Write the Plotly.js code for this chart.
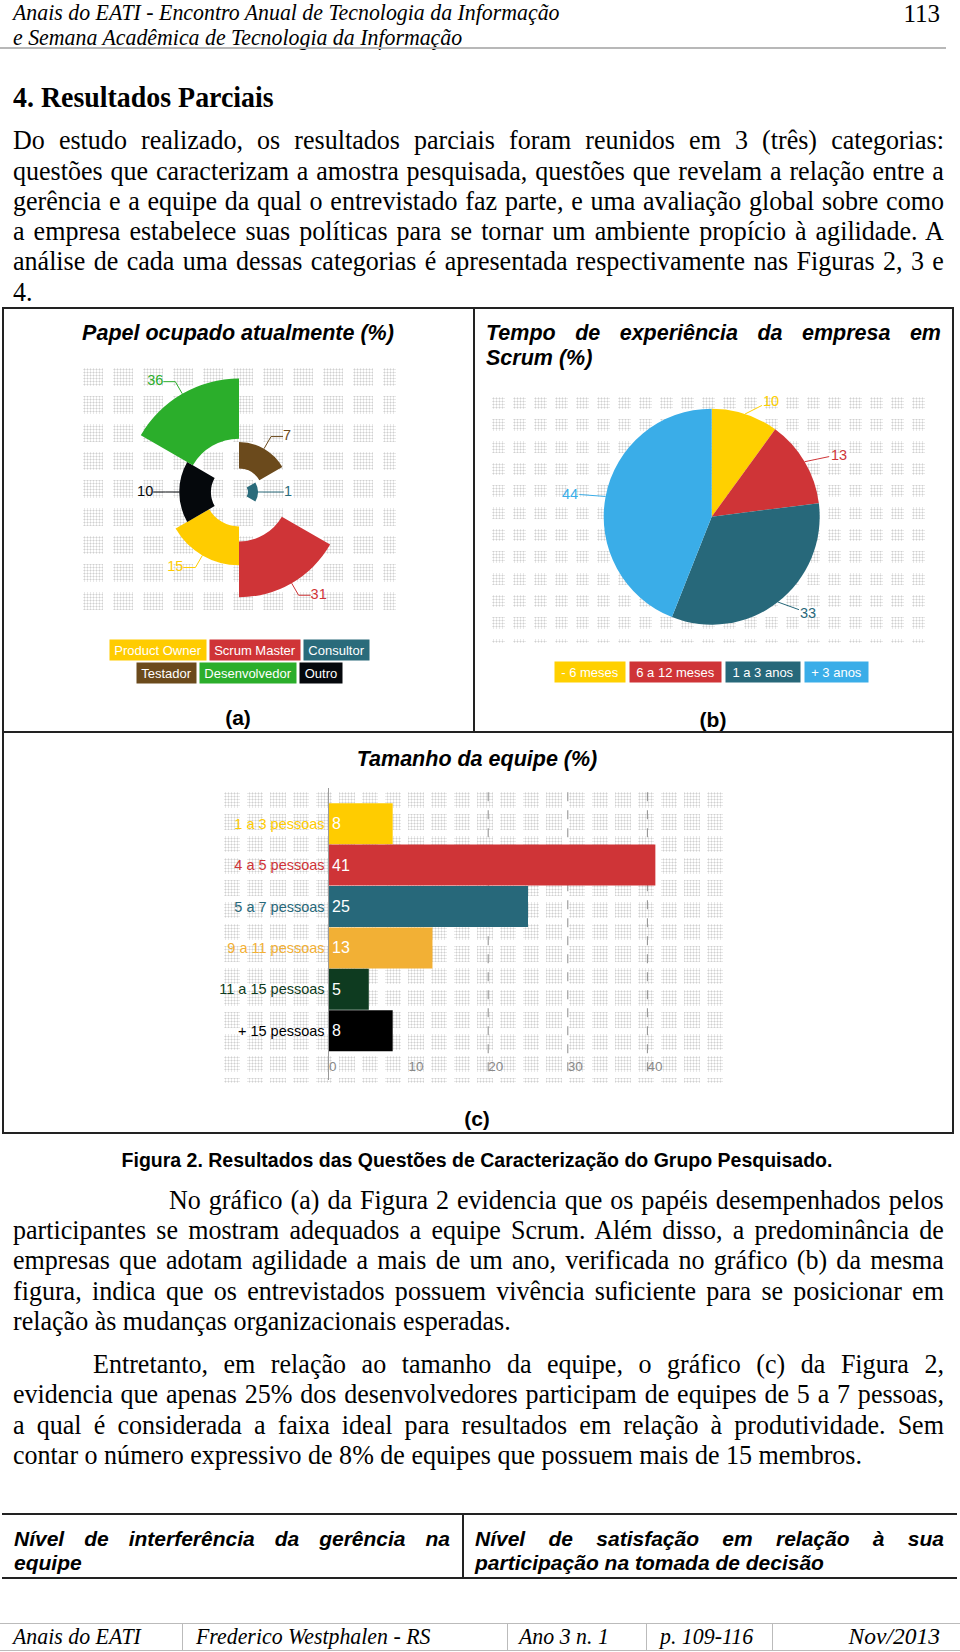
<!DOCTYPE html>
<html>
<head>
<meta charset="utf-8">
<script src="https://cdn.plot.ly/plotly-3.0.1.min.js"></script>
<style>
  html,body{margin:0;padding:0;background:#fff;}
  body{width:960px;height:1652px;position:relative;overflow:hidden;}
  .abs{position:absolute;}
  .serif{font-family:"Liberation Serif","Times New Roman",serif;color:#000;}
  .sans{font-family:"Liberation Sans",Arial,sans-serif;color:#000;}
  .cond{transform:scaleX(0.93);transform-origin:0 0;}
  .ln{position:absolute;left:13px;width:1001px;height:30px;line-height:30px;font-size:28px;white-space:nowrap;text-align:justify;text-align-last:justify;transform:scaleX(0.93);transform-origin:0 0;}
  .ln.last{text-align:left;text-align-last:left;}
  .bi{font-weight:bold;font-style:italic;}
  .hl{position:absolute;background:#222;}
  .dotsA,.dotsB,.dotsC{position:absolute;}
  .dotsA{background-image:linear-gradient(90deg,rgba(255,255,255,0) 0 20px,#fff 20px 30px),linear-gradient(180deg,rgba(255,255,255,0) 0 18px,#fff 18px 28px),radial-gradient(circle,#d0d0d0 0.85px,rgba(255,255,255,0) 1.15px);background-size:30px 28px,30px 28px,3px 3px;}
  .dotsB{background-image:linear-gradient(90deg,rgba(255,255,255,0) 0 13px,#fff 13px 21px),linear-gradient(180deg,rgba(255,255,255,0) 0 12px,#fff 12px 22px),radial-gradient(circle,#d0d0d0 0.85px,rgba(255,255,255,0) 1.15px);background-size:21px 22px,21px 22px,3px 3px;}
  .dotsC{background-image:linear-gradient(90deg,rgba(255,255,255,0) 0 16px,#fff 16px 23px),linear-gradient(180deg,rgba(255,255,255,0) 0 16px,#fff 16px 22px),radial-gradient(circle,#d0d0d0 0.85px,rgba(255,255,255,0) 1.15px);background-size:23px 22px,23px 22px,3px 3px;}
  .chart{position:absolute;}
</style>
</head>
<body>

<!-- header -->
<div class="abs serif cond" style="left:13px;top:-1px;font-size:23.5px;font-style:italic;line-height:26px;white-space:nowrap;">Anais do EATI - Encontro Anual de Tecnologia da Informação</div>
<div class="abs serif cond" style="left:13px;top:24px;font-size:23.5px;font-style:italic;line-height:26px;white-space:nowrap;">e Semana Acadêmica de Tecnologia da Informação</div>
<div class="abs serif" style="left:880px;width:60px;text-align:right;top:0px;font-size:25px;line-height:28px;">113</div>
<div class="abs" style="left:0;top:47px;width:946px;height:2px;background:#b8b8b8;"></div>

<div class="abs serif cond" style="left:13px;top:81px;font-size:30px;font-weight:bold;line-height:32px;white-space:nowrap;">4. Resultados Parciais</div>

<div class="ln serif" style="top:125px;">Do estudo realizado, os resultados parciais foram reunidos em 3 (três) categorias:</div>
<div class="ln serif" style="top:156px;">questões que caracterizam a amostra pesquisada, questões que revelam a relação entre a</div>
<div class="ln serif" style="top:186px;">gerência e a equipe da qual o entrevistado faz parte, e uma avaliação global sobre como</div>
<div class="ln serif" style="top:216px;">a empresa estabelece suas políticas para se tornar um ambiente propício à agilidade. A</div>
<div class="ln serif" style="top:246px;">análise de cada uma dessas categorias é apresentada respectivamente nas Figuras 2, 3 e</div>
<div class="ln serif last" style="top:277px;">4.</div>

<!-- figure box -->
<div class="hl" style="left:2px;top:307px;width:952px;height:1.5px;"></div>
<div class="hl" style="left:2px;top:1132px;width:952px;height:1.5px;"></div>
<div class="hl" style="left:2px;top:307px;width:1.5px;height:826px;"></div>
<div class="hl" style="left:952px;top:307px;width:1.5px;height:826px;"></div>
<div class="hl" style="left:473px;top:307px;width:1.5px;height:425px;"></div>
<div class="hl" style="left:2px;top:731px;width:952px;height:1.5px;"></div>

<div class="abs sans bi" style="left:0;width:476px;text-align:center;top:320px;font-size:21.5px;line-height:26px;">Papel ocupado atualmente (%)</div>
<div class="abs sans bi" style="left:486px;width:455px;top:320px;font-size:21.5px;line-height:26px;white-space:nowrap;text-align:justify;text-align-last:justify;">Tempo de experiência da empresa em</div>
<div class="abs sans bi" style="left:486px;top:345px;font-size:21.5px;line-height:26px;white-space:nowrap;">Scrum (%)</div>

<div class="dotsA" style="left:83px;top:368px;width:313px;height:246px;"></div>
<div class="dotsB" style="left:492px;top:397px;width:441px;height:246px;"></div>
<div class="dotsC" style="left:224px;top:792px;width:503px;height:291px;"></div>

<div id="chartA" class="chart" style="left:0;top:330px;width:474px;height:370px;"></div>
<div id="chartB" class="chart" style="left:474px;top:380px;width:478px;height:330px;"></div>

<div class="abs sans" style="left:0;width:476px;text-align:center;top:705px;font-size:21px;font-weight:bold;line-height:26px;">(a)</div>
<div class="abs sans" style="left:474px;width:478px;text-align:center;top:707px;font-size:21px;font-weight:bold;line-height:26px;">(b)</div>
<div class="abs sans bi" style="left:0;width:954px;text-align:center;top:746px;font-size:21.5px;line-height:26px;">Tamanho da equipe (%)</div>

<div id="chartC" class="chart" style="left:0;top:780px;width:960px;height:350px;"></div>

<div class="abs sans" style="left:0;width:954px;text-align:center;top:1106px;font-size:21px;font-weight:bold;line-height:26px;">(c)</div>

<div class="abs sans" style="left:0;width:954px;text-align:center;top:1148px;font-size:19.5px;font-weight:bold;line-height:24px;white-space:nowrap;">Figura 2. Resultados das Questões de Caracterização do Grupo Pesquisado.</div>

<div class="ln serif" style="top:1185px;left:169px;width:833px;">No gráfico (a) da Figura 2 evidencia que os papéis desempenhados pelos</div>
<div class="ln serif" style="top:1215px;">participantes se mostram adequados a equipe Scrum. Além disso, a predominância de</div>
<div class="ln serif" style="top:1245px;">empresas que adotam agilidade a mais de um ano, verificada no gráfico (b) da mesma</div>
<div class="ln serif" style="top:1276px;">figura, indica que os entrevistados possuem vivência suficiente para se posicionar em</div>
<div class="ln serif last" style="top:1306px;">relação às mudanças organizacionais esperadas.</div>

<div class="ln serif" style="top:1349px;left:93px;width:915px;">Entretanto, em relação ao tamanho da equipe, o gráfico (c) da Figura 2,</div>
<div class="ln serif" style="top:1379px;">evidencia que apenas 25% dos desenvolvedores participam de equipes de 5 a 7 pessoas,</div>
<div class="ln serif" style="top:1410px;">a qual é considerada a faixa ideal para resultados em relação à produtividade. Sem</div>
<div class="ln serif last" style="top:1440px;">contar o número expressivo de 8% de equipes que possuem mais de 15 membros.</div>

<!-- bottom table -->
<div class="hl" style="left:2px;top:1513px;width:955px;height:1.5px;"></div>
<div class="hl" style="left:2px;top:1577px;width:955px;height:1.5px;"></div>
<div class="hl" style="left:462px;top:1513px;width:1.5px;height:65px;"></div>
<div class="abs sans bi" style="left:14px;width:436px;top:1526px;font-size:21px;line-height:26px;white-space:nowrap;text-align:justify;text-align-last:justify;">Nível de interferência da gerência na</div>
<div class="abs sans bi" style="left:14px;top:1550px;font-size:21px;line-height:26px;white-space:nowrap;">equipe</div>
<div class="abs sans bi" style="left:475px;width:469px;top:1526px;font-size:21px;line-height:26px;white-space:nowrap;text-align:justify;text-align-last:justify;">Nível de satisfação em relação à sua</div>
<div class="abs sans bi" style="left:475px;top:1550px;font-size:21px;line-height:26px;white-space:nowrap;">participação na tomada de decisão</div>

<!-- footer -->
<div class="abs" style="left:0;top:1623px;width:960px;height:1px;background:#bbb;"></div>
<div class="abs" style="left:0;top:1650px;width:960px;height:1px;background:#bbb;"></div>
<div class="abs" style="left:182px;top:1623px;width:1px;height:28px;background:#bbb;"></div>
<div class="abs" style="left:507px;top:1623px;width:1px;height:28px;background:#bbb;"></div>
<div class="abs" style="left:646px;top:1623px;width:1px;height:28px;background:#bbb;"></div>
<div class="abs" style="left:772px;top:1623px;width:1px;height:28px;background:#bbb;"></div>
<div class="abs serif cond" style="left:13px;top:1623px;font-size:23.5px;font-style:italic;line-height:27px;white-space:nowrap;">Anais do EATI</div>
<div class="abs serif cond" style="left:196px;top:1623px;font-size:23.5px;font-style:italic;line-height:27px;white-space:nowrap;">Frederico Westphalen - RS</div>
<div class="abs serif cond" style="left:519px;top:1623px;font-size:23.5px;font-style:italic;line-height:27px;white-space:nowrap;">Ano 3 n. 1</div>
<div class="abs serif cond" style="left:660px;top:1623px;font-size:23.5px;font-style:italic;line-height:27px;white-space:nowrap;">p. 109-116</div>
<div class="abs serif" style="left:800px;width:140px;text-align:right;top:1623px;font-size:23.5px;font-style:italic;line-height:27px;white-space:nowrap;">Nov/2013</div>

<script>
// ---------- DATA ----------
// (a) Papel ocupado atualmente (%) - sectors clockwise from 12 o'clock
const roleNames  = ['Testador', 'Consultor', 'Scrum Master', 'Product Owner', 'Outro', 'Desenvolvedor'];
const roleValues = [7, 1, 31, 15, 10, 36];
const roleColors = ['#6B4A1C', '#2A6B7B', '#CF3437', '#FFCC00', '#05080C', '#2BAE2B'];
const roleLegendRows = [['Product Owner', 'Scrum Master', 'Consultor'], ['Testador', 'Desenvolvedor', 'Outro']];

// (b) Tempo de experiência da empresa em Scrum (%)
const expLabels = ['- 6 meses', '6 a 12 meses', '1 a 3 anos', '+ 3 anos'];
const expValues = [10, 13, 33, 44];
const expColors = ['#FFD000', '#CF3437', '#27687A', '#3AADE8'];

// (c) Tamanho da equipe (%)
const teamLabels = ['1 a 3 pessoas', '4 a 5 pessoas', '5 a 7 pessoas', '9 a 11 pessoas', '11 a 15 pessoas', '+ 15 pessoas'];
const teamValues = [8, 41, 25, 13, 5, 8];
const teamColors = ['#FFCC00', '#CF3437', '#27687A', '#F2B035', '#0E3B20', '#000000'];
const teamTicks = [0, 10, 20, 30, 40];
const teamGrid = [20, 30, 40];

// ---------- helpers ----------
const FONT = '"Liberation Sans", Arial, sans-serif';
const cfg = {staticPlot: true, displayModeBar: false};
const ctx = document.createElement('canvas').getContext('2d');
function textW(t, size) { ctx.font = size + 'px "Liberation Sans", Arial, sans-serif'; return ctx.measureText(t).width; }

function legendBoxes(rows, colorOf, W, H, cx, rowY, gap, pad, size) {
  const out = [];
  rows.forEach((row, ri) => {
    const widths = row.map(t => Math.round(textW(t, size) + pad));
    const total = widths.reduce((a, b) => a + b, 0) + gap * (row.length - 1);
    let x = cx - total / 2;
    row.forEach((t, i) => {
      const c = x + widths[i] / 2;
      out.push({xref: 'paper', yref: 'paper', x: c / W, y: 1 - rowY[ri] / H, xanchor: 'center', yanchor: 'middle',
        text: t, showarrow: false, bgcolor: colorOf(t), width: widths[i], height: 20, borderpad: 0,
        font: {family: FONT, size: size, color: '#ffffff'}});
      x += widths[i] + gap;
    });
  });
  return out;
}

// ---------- chart A: rose with hole ----------
(function () {
  const W = 474, H = 370, cx = 239, cy = 162, k = 18.9, rmax = 8, innerFrac = 0.47;
  const R = rmax * k;
  const n = roleValues.length;
  const step = 360 / n;
  const sq = roleValues.map(v => Math.sqrt(v));
  const thetas = roleValues.map((v, i) => (i + 0.5) * step);
  const traces = [{
    type: 'barpolar', r: sq.map(s => s * (1 - innerFrac)), base: sq.map(s => s * innerFrac),
    theta: thetas, width: roleValues.map(() => step), marker: {color: roleColors, line: {width: 0}},
    hoverinfo: 'skip', showlegend: false
  }];
  const delta = 14 / k, hor = 12 / k;
  const tr = [], tt = [], tp = [];
  roleValues.forEach((v, i) => {
    const th = thetas[i], rad = th * Math.PI / 180, ro = sq[i], r2 = ro + delta;
    const x2 = r2 * Math.sin(rad), y2 = r2 * Math.cos(rad);
    const side = Math.sin(rad) >= 0 ? 1 : -1;
    const x3 = x2 + side * hor, y3 = y2;
    const r3 = Math.hypot(x3, y3), th3 = Math.atan2(x3, y3) * 180 / Math.PI;
    traces.push({type: 'scatterpolar', mode: 'lines', r: [ro, r2, r3], theta: [th, th, th3],
      line: {color: roleColors[i], width: 1}, hoverinfo: 'skip', showlegend: false, cliponaxis: false});
    tr.push(r3); tt.push(th3); tp.push(side > 0 ? 'middle right' : 'middle left');
  });
  traces.push({type: 'scatterpolar', mode: 'text', r: tr, theta: tt, text: roleValues.map(String),
    textposition: tp, textfont: {family: FONT, size: 14.5, color: roleColors}, hoverinfo: 'skip',
    showlegend: false, cliponaxis: false});
  const colorOf = t => roleColors[roleNames.indexOf(t)];
  const layout = {
    width: W, height: H, margin: {l: 0, r: 0, t: 0, b: 0},
    paper_bgcolor: 'rgba(0,0,0,0)', plot_bgcolor: 'rgba(0,0,0,0)', showlegend: false,
    polar: {
      domain: {x: [(cx - R) / W, (cx + R) / W], y: [1 - (cy + R) / H, 1 - (cy - R) / H]},
      bgcolor: 'rgba(0,0,0,0)',
      radialaxis: {visible: false, range: [0, rmax]},
      angularaxis: {visible: false, rotation: 90, direction: 'clockwise'}
    },
    annotations: legendBoxes(roleLegendRows, colorOf, W, H, cx, [320, 343], 4, 9, 13)
  };
  Plotly.newPlot('chartA', traces, layout, cfg);
})();

// ---------- chart B: pie ----------
(function () {
  const W = 478, H = 330, cx = 237.7, cy = 136.7, R = 108;
  const total = expValues.reduce((a, b) => a + b, 0);
  const ann = [];
  let cum = 0;
  expValues.forEach((v, i) => {
    const m = (cum + v / 2) / total; cum += v;
    const a = m * 2 * Math.PI;
    const ex = cx + R * Math.sin(a), ey = cy - R * Math.cos(a);
    const side = Math.sin(a) >= 0 ? 1 : -1;
    ann.push({xref: 'paper', yref: 'paper', x: ex / W, y: 1 - ey / H, text: String(v), showarrow: true,
      arrowhead: 0, arrowwidth: 1, arrowcolor: expColors[i], standoff: 0,
      ax: 14 * Math.sin(a) + side * 22, ay: -14 * Math.cos(a),
      font: {family: FONT, size: 14.5, color: expColors[i]}});
  });
  const legend = legendBoxes([expLabels], t => expColors[expLabels.indexOf(t)], W, H, cx, [292], 5, 13, 13);
  const trace = {type: 'pie', values: expValues, labels: expLabels, sort: false, direction: 'clockwise',
    rotation: 0, textinfo: 'none', hoverinfo: 'skip', marker: {colors: expColors, line: {width: 0}},
    domain: {x: [(cx - R) / W, (cx + R) / W], y: [1 - (cy + R) / H, 1 - (cy - R) / H]}, showlegend: false};
  const layout = {width: W, height: H, margin: {l: 0, r: 0, t: 0, b: 0}, paper_bgcolor: 'rgba(0,0,0,0)',
    showlegend: false, annotations: ann.concat(legend)};
  Plotly.newPlot('chartB', [trace], layout, cfg);
})();

// ---------- chart C: horizontal bars ----------
(function () {
  const W = 960, H = 350;
  const trace = {type: 'bar', orientation: 'h', y: teamLabels, x: teamValues,
    marker: {color: teamColors, line: {width: 0}}, text: teamValues.map(String), textposition: 'inside',
    insidetextanchor: 'start', constraintext: 'none', textfont: {family: FONT, size: 16, color: '#ffffff'},
    hoverinfo: 'skip', showlegend: false, cliponaxis: false};
  const layout = {
    width: W, height: H, margin: {l: 328.8, r: 232.7, t: 8, b: 50},
    paper_bgcolor: 'rgba(0,0,0,0)', plot_bgcolor: 'rgba(0,0,0,0)', bargap: 0.01, showlegend: false,
    xaxis: {range: [0, 50], tickmode: 'array', tickvals: teamTicks, ticktext: teamTicks.map(String),
      showgrid: false, zeroline: false, showline: false, ticks: '', ticklabelposition: 'inside right',
      tickfont: {family: FONT, size: 13.5, color: '#8a8a8a'}, fixedrange: true},
    yaxis: {type: 'category', range: [6.19, -0.862], tickmode: 'array', tickvals: teamLabels,
      ticktext: teamLabels.map((l, i) => '<span style="color:' + teamColors[i] + '">' + l + '</span>'),
      showline: true, linecolor: '#9a9a9a', linewidth: 1.5, ticks: '', showgrid: false, zeroline: false,
      tickfont: {family: FONT, size: 14.5}, automargin: false, fixedrange: true},
    shapes: teamGrid.map(v => ({type: 'line', xref: 'x', yref: 'paper', x0: v, x1: v, y0: 0.03, y1: 1,
      layer: 'below', line: {color: '#8c8c8c', width: 1, dash: 'dash'}}))
  };
  Plotly.newPlot('chartC', [trace], layout, cfg);
})();
</script>
</body>
</html>
